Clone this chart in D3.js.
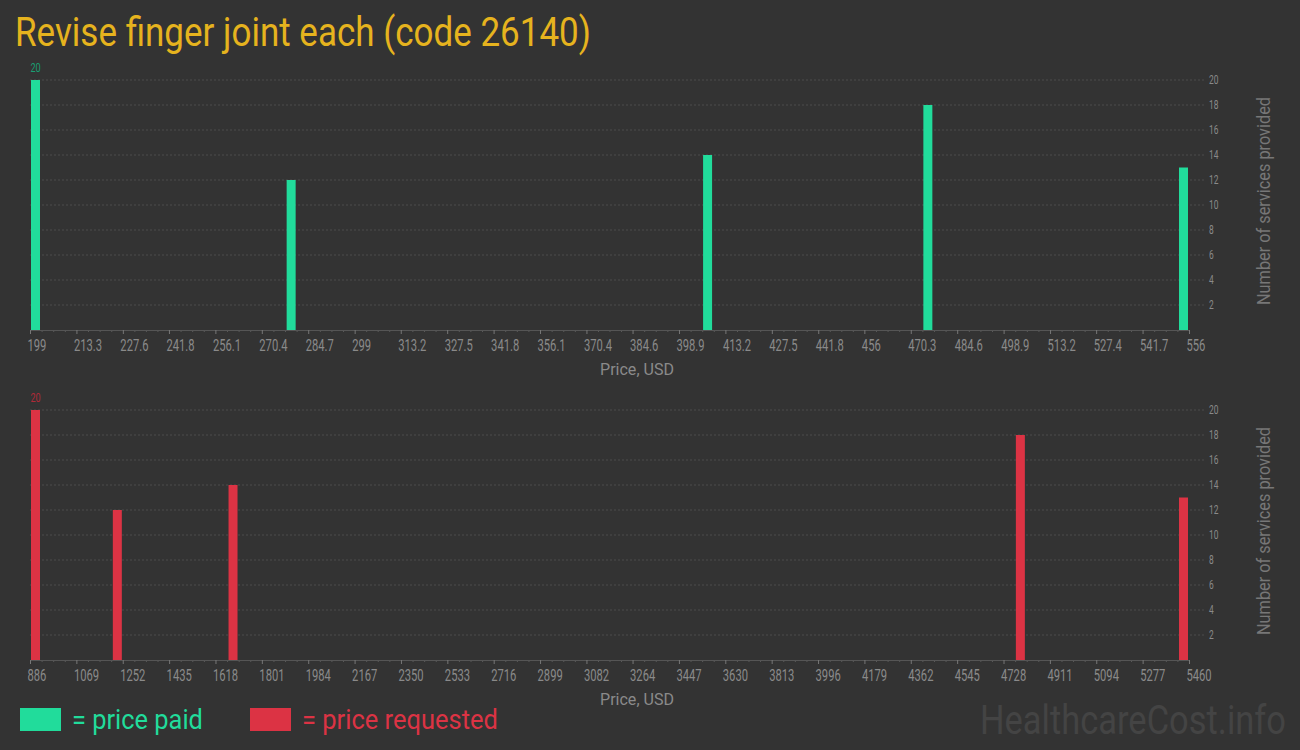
<!DOCTYPE html>
<html>
<head>
<meta charset="utf-8">
<script src="https://cdn.jsdelivr.net/npm/d3@7"></script>
<style>
  html, body { margin: 0; padding: 0; background: #333333; }
  svg { display: block; }
  text { font-family: Roboto, "Noto Sans", sans-serif; }
</style>
</head>
<body>
<svg id="chart" width="1300" height="750"></svg>
<script>
// ---- data ----
const titleText = "Revise finger joint each (code 26140)";
const paidPrices = [199, 278.5, 408, 476.5, 556];
const paidCounts = [20, 12, 14, 18, 13];
const requestedPrices = [886, 1212, 1673, 4810, 5460];
const requestedCounts = [20, 12, 14, 18, 13];
const paidTickLabels = ["199","213.3","227.6","241.8","256.1","270.4","284.7","299","313.2","327.5","341.8","356.1","370.4","384.6","398.9","413.2","427.5","441.8","456","470.3","484.6","498.9","513.2","527.4","541.7","556"];
const requestedTickLabels = ["886","1069","1252","1435","1618","1801","1984","2167","2350","2533","2716","2899","3082","3264","3447","3630","3813","3996","4179","4362","4545","4728","4911","5094","5277","5460"];
const yTickValues = [2,4,6,8,10,12,14,16,18,20];
const xAxisTitle = "Price, USD";
const yAxisTitle = "Number of services provided";
const legendPaid = "= price paid";
const legendRequested = "= price requested";
const watermark = "HealthcareCost.info";

// ---- styling ----
const GREEN = "#21dc9b", GREEN_DARK = "#1a9e72";
const RED = "#dc3344", RED_DARK = "#b02a38";
const SX = 0.7; // horizontal condensing for tick labels

const svg = d3.select("#chart");

// fit a text to a width by horizontal scaling around its anchor point
function fitText(x, y, str, size, width, fill) {
  const g = svg.append("g");
  const t = g.append("text").attr("font-size", size).attr("fill", fill).text(str);
  const len = t.node().getComputedTextLength();
  g.attr("transform", `translate(${x},${y}) scale(${width / len},1)`);
  return t;
}

fitText(15, 46, titleText, 41, 576, "#e6b31e");

function panel(prices, counts, tickLabels, base, top, color, darkColor) {
  const x0 = 30, x1 = 1189, barW = 9;
  const g = svg.append("g");
  const tickNums = tickLabels.map(Number);
  const x = d3.scaleLinear().domain([tickNums[0], tickNums[tickNums.length-1]]).range([x0, x1]);
  const xBar = d3.scaleLinear().domain(x.domain()).range([x0 + 1, x1 - 1 - barW]);
  const y = d3.scaleLinear().domain([0, 20]).range([base, top]);

  // grid
  g.append("g").selectAll("line").data(yTickValues).join("line")
    .attr("x1", x0).attr("x2", 1204)
    .attr("y1", d => y(d)).attr("y2", d => y(d))
    .attr("stroke", "#4c4c4c").attr("stroke-dasharray", "2,2");

  // y labels
  g.append("g").selectAll("text").data(yTickValues).join("text")
    .attr("transform", d => `translate(1209,${y(d)}) scale(${SX},1)`)
    .attr("dy", "0.35em")
    .attr("fill", "#8a8a8a").attr("font-size", 12)
    .text(d => d);

  // bars
  g.append("g").selectAll("rect").data(prices).join("rect")
    .attr("x", d => xBar(d))
    .attr("width", barW)
    .attr("y", (d, i) => y(counts[i]))
    .attr("height", (d, i) => base - y(counts[i]))
    .attr("fill", color);

  // max label
  const maxC = d3.max(counts);
  const mi = counts.indexOf(maxC);
  g.append("text")
    .attr("transform", `translate(${xBar(prices[mi]) + barW/2},${y(maxC) - 8}) scale(${SX},1)`)
    .attr("text-anchor", "middle")
    .attr("fill", darkColor).attr("font-size", 13)
    .text(maxC);

  // minor ticks
  const minor = [];
  for (let i = 0; i < tickNums.length - 1; i++) {
    for (let k = 1; k < 4; k++) minor.push(tickNums[i] + (tickNums[i+1] - tickNums[i]) * k / 4);
  }
  const minorAxis = g.append("g").attr("transform", `translate(0,${base})`)
    .call(d3.axisBottom(x).tickValues(minor).tickSize(2).tickSizeOuter(0).tickFormat(""));
  minorAxis.select(".domain").remove();
  minorAxis.selectAll("line").attr("stroke", "#5a5a5a");

  const axis = g.append("g").attr("transform", `translate(0,${base})`)
    .call(d3.axisBottom(x).tickValues(tickNums).tickSize(4).tickSizeOuter(0)
      .tickFormat((d, i) => tickLabels[i]));
  axis.select(".domain").attr("stroke", "#555");
  axis.selectAll(".tick line").attr("stroke", "#777");
  axis.selectAll(".tick text")
    .attr("text-anchor", "start")
    .attr("x", -3 / SX).attr("y", 21).attr("dy", null)
    .attr("transform", `scale(${SX},1)`)
    .attr("fill", "#8a8a8a").attr("font-size", 16)
    .attr("font-family", "Roboto, sans-serif");

  // x title
  g.append("text")
    .attr("x", 637).attr("y", base + 45)
    .attr("text-anchor", "middle")
    .attr("fill", "#8a8a8a").attr("font-size", 17)
    .attr("textLength", 74).attr("lengthAdjust", "spacingAndGlyphs")
    .text(xAxisTitle);

  // y title
  g.append("text")
    .attr("transform", `translate(1270,${(base + top) / 2 - 4}) rotate(-90)`)
    .attr("text-anchor", "middle")
    .attr("fill", "#777").attr("font-size", 18)
    .attr("textLength", 208).attr("lengthAdjust", "spacingAndGlyphs")
    .text(yAxisTitle);
}

panel(paidPrices, paidCounts, paidTickLabels, 330, 80, GREEN, GREEN_DARK);
panel(requestedPrices, requestedCounts, requestedTickLabels, 660, 410, RED, RED_DARK);

// legend
svg.append("rect").attr("x", 20).attr("y", 708).attr("width", 41).attr("height", 23).attr("fill", GREEN);
fitText(72, 729, legendPaid, 28, 131, GREEN);
svg.append("rect").attr("x", 250).attr("y", 708).attr("width", 41).attr("height", 23).attr("fill", RED);
fitText(302, 729, legendRequested, 28, 196, RED);

// watermark
fitText(980, 734, watermark, 40, 306, "#444");
</script>
</body>
</html>
